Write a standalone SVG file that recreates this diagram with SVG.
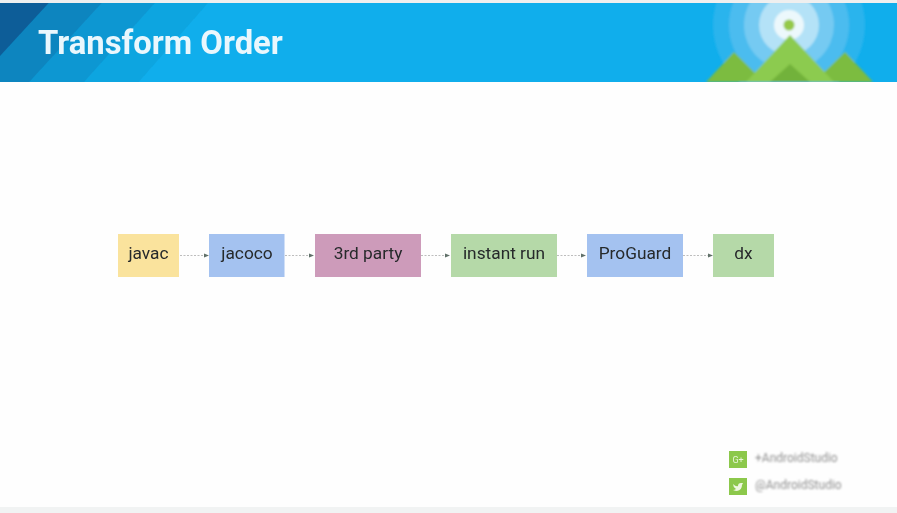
<svg xmlns="http://www.w3.org/2000/svg" width="897" height="513" viewBox="0 0 897 513">
<style>
text{font-family:Roboto,"Liberation Sans",sans-serif}
.n{font-size:17.300px;fill:#26292b;text-anchor:middle;filter:url(#b)}
.s{font-size:12px;fill:#8f8f8f;filter:url(#b2)}
.c{stroke:#bdbdbd;stroke-width:1;stroke-dasharray:2 1.5;fill:none}
.h{fill:#5f6f68}
.box{filter:url(#b)}
</style>
<defs>
<filter id="b" x="-10%" y="-30%" width="120%" height="160%"><feGaussianBlur stdDeviation="0.7"/></filter>
<filter id="b2" x="-10%" y="-20%" width="120%" height="140%"><feGaussianBlur stdDeviation="0.85"/></filter>
<filter id="b3" x="-10%" y="-10%" width="120%" height="120%"><feGaussianBlur stdDeviation="1.2"/></filter>
<filter id="bc" filterUnits="userSpaceOnUse" x="170" y="245" width="550" height="20"><feGaussianBlur stdDeviation="0.6"/></filter>
<clipPath id="hdr"><rect x="0" y="3" width="897" height="79"/></clipPath>
</defs>
<rect width="897" height="513" fill="#fefefe"/>
<rect width="897" height="3" fill="#efefef"/>
<rect y="507" width="897" height="6" fill="#f1f3f3"/>
<g id="header" clip-path="url(#hdr)">
<rect x="0" y="3" width="897" height="79" fill="#10aeec"/>
<polygon points="-10,92 70,-5 215,-5 130,92" fill="#0fa5e0" filter="url(#b)"/>
<polygon points="-10,92 -10,-5 162,-5 75,92" fill="#0e97d2" filter="url(#b)"/>
<polygon points="-10,92 -10,-5 109,-5 20,92" fill="#0d85bf" filter="url(#b)"/>
<polygon points="-10,67 -10,-5 56,-5" fill="#0a5d98" filter="url(#b)"/>
<g filter="url(#b3)">
<circle cx="789" cy="25" r="76" fill="#2cb4ed"/>
<circle cx="789" cy="25" r="60" fill="#4cbcef"/>
<circle cx="789" cy="25" r="45" fill="#74caf2"/>
<circle cx="789" cy="25" r="30" fill="#b4e2f7"/>
<circle cx="789" cy="25" r="15" fill="#ecf8fc"/>
<circle cx="789" cy="25" r="5.500" fill="#95c94a"/>
<polygon points="706,82 734,52 764,82" fill="#7cbc41"/>
<polygon points="814,82 845,52 873,82" fill="#7cbc41"/>
<polygon points="746,82 790,35 834,82" fill="#8ccb4f"/>
<polygon points="770,82 790,64 810,82" fill="#72b23a"/>
</g>
</g>
<text x="38" y="54" font-size="32.800" font-weight="700" fill="#eaf7fd" filter="url(#b)" id="title">Transform Order</text>
<g id="connectors" filter="url(#bc)">
<line class="c" x1="180" y1="255.500" x2="204" y2="255.500"/><polygon class="h" points="204,253.500 209,255.500 204,257.500"/>
<line class="c" x1="285" y1="255.500" x2="309" y2="255.500"/><polygon class="h" points="309,253.500 314,255.500 309,257.500"/>
<line class="c" x1="421" y1="255.500" x2="445" y2="255.500"/><polygon class="h" points="445,253.500 450,255.500 445,257.500"/>
<line class="c" x1="557" y1="255.500" x2="581" y2="255.500"/><polygon class="h" points="581,253.500 586,255.500 581,257.500"/>
<line class="c" x1="683" y1="255.500" x2="708" y2="255.500"/><polygon class="h" points="708,253.500 713,255.500 708,257.500"/>
</g>
<g id="javac"><rect class="box" x="118" y="234" width="61" height="43" fill="#fae39d"/><text class="n" x="148.500" y="259">javac</text></g>
<g id="jacoco"><rect class="box" x="209" y="234" width="75.500" height="43" fill="#a4c2f0"/><text class="n" x="247" y="259">jacoco</text></g>
<g id="third-party"><rect class="box" x="315" y="234" width="106" height="43" fill="#cd9bba"/><text class="n" x="368" y="259">3rd party</text></g>
<g id="instant-run"><rect class="box" x="451" y="234" width="106" height="43" fill="#b5d9a8"/><text class="n" x="504" y="259">instant run</text></g>
<g id="proguard"><rect class="box" x="587" y="234" width="96" height="43" fill="#a4c2f0"/><text class="n" x="635" y="259">ProGuard</text></g>
<g id="dx"><rect class="box" x="713" y="234" width="61" height="43" fill="#b5d9a8"/><text class="n" x="743.500" y="259">dx</text></g>
<g id="gplus"><rect x="729" y="451" width="18" height="17" fill="#8cc84b" filter="url(#b)"/><text x="738" y="463" font-size="9" fill="#e8f5d8" text-anchor="middle" filter="url(#b)">G+</text><text class="s" x="755" y="462">+AndroidStudio</text></g>
<g id="twitter"><rect x="729" y="478" width="18" height="17" fill="#8cc84b" filter="url(#b)"/><path d="M733 484 q3 3 5 2 q0 -3 3 -3 l2 0 l-1 2 q0 5 -5 6 q-2 0 -4 -1 q2 0 3 -1 q-3 -2 -3 -5z" fill="#eef7df" filter="url(#b)"/><text class="s" x="755" y="489">@AndroidStudio</text></g>
</svg>
